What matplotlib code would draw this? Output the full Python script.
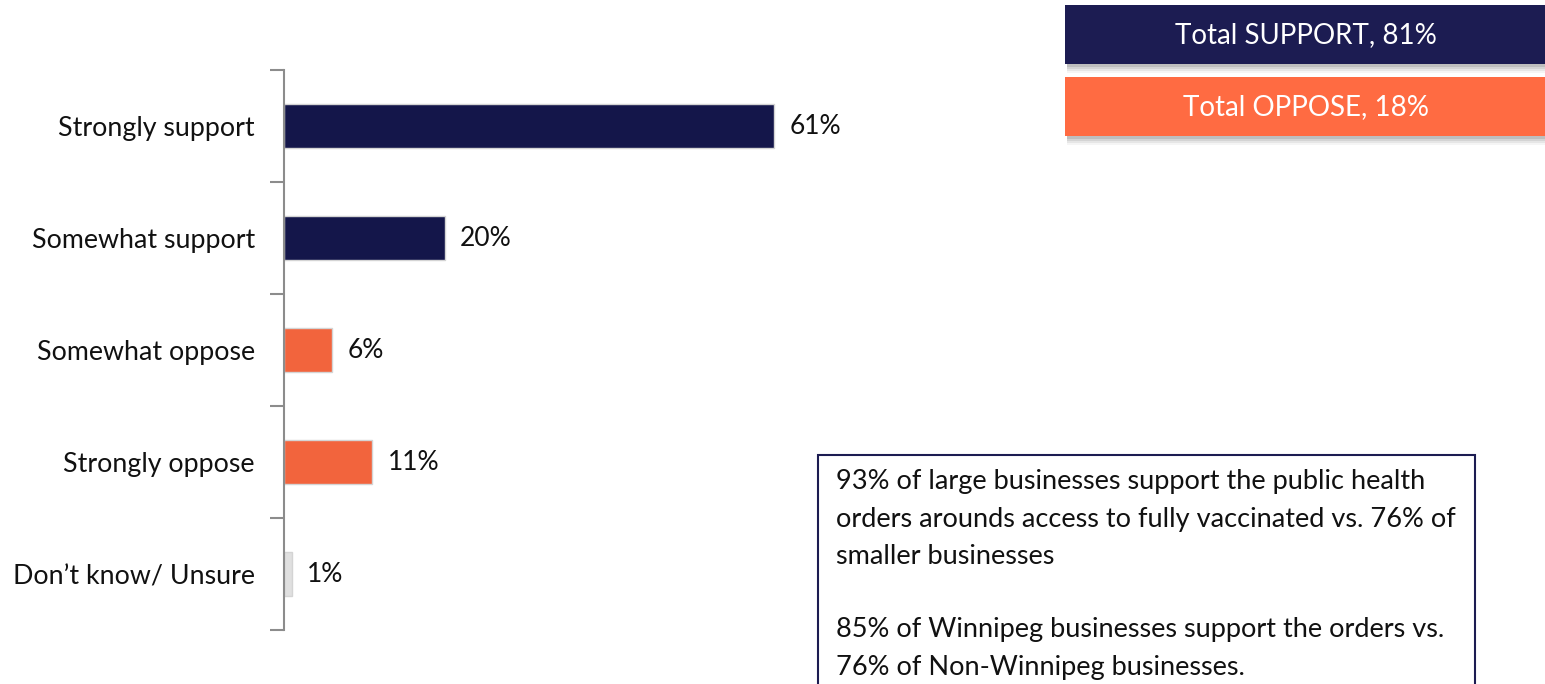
import matplotlib
matplotlib.use("Agg")
import matplotlib.pyplot as plt
from matplotlib.patches import Rectangle

# data
categories = ["Strongly support", "Somewhat support", "Somewhat oppose", "Strongly oppose", "Don\u2019t know/ Unsure"]
values = [61, 20, 6, 11, 1]
bar_colors = ["#14164a", "#14164a", "#f2643d", "#f2643d", "#e0e0e0"]
totals = ["Total SUPPORT, 81%", "Total OPPOSE, 18%"]
total_colors = ["#1c1c52", "#ff6b42"]
note_lines = [
    "93% of large businesses support the public health",
    "orders arounds access to fully vaccinated vs. 76% of",
    "smaller businesses",
    "",
    "85% of Winnipeg businesses support the orders vs.",
    "76% of Non-Winnipeg businesses.",
]

W, H = 1545, 684
plt.rcParams['font.family'] = ['Lato', 'DejaVu Sans']

fig = plt.figure(figsize=(W / 100, H / 100), dpi=100)


def fx(px):
    return px / W


def fy(py):
    return 1 - py / H


# main axes: y-axis line at x=284, top 70, bottom 630
ax_left, ax_top, ax_bot, ax_w = 284, 70, 630, 800
ax = fig.add_axes([fx(ax_left), fy(ax_bot), ax_w / W, (ax_bot - ax_top) / H])
px_per_unit = 8.04
ax.set_xlim(0, ax_w / px_per_unit)
ax.set_ylim(len(categories) - 0.5, -0.5)

ypos = list(range(len(categories)))
ax.barh(ypos, values, height=0.4, color=bar_colors, edgecolor="#d4d4d4", linewidth=1)
for y, v in zip(ypos, values):
    ax.text(v + 15 / px_per_unit, y, f"{v}%", va="center", ha="left", fontsize=19, color="#111111")

for s in ["top", "right", "bottom"]:
    ax.spines[s].set_visible(False)
ax.spines["left"].set_color("#8c8c8c")
ax.spines["left"].set_linewidth(1.5)
ax.set_xticks([])
ax.set_yticks([i - 0.5 for i in range(len(categories) + 1)])
ax.set_yticklabels([])
ax.tick_params(axis="y", which="major", length=10, width=1.5, color="#8c8c8c", direction="out")
ax.set_yticks(ypos, minor=True)
ax.set_yticklabels(categories, minor=True, fontsize=19.3, color="#111111")
ax.tick_params(axis="y", which="minor", length=0, pad=21)

# total boxes top right, with a soft shadow
box_x0, box_x1 = 1065, 1545
for i, (label, col) in enumerate(zip(totals, total_colors)):
    top = 5 + i * 72
    bh = 59
    for k, a in enumerate([0.10, 0.08, 0.06, 0.04]):
        off = 3 + k * 2
        fig.patches.append(Rectangle((fx(box_x0 + 2), fy(top + bh + off)), (box_x1 - box_x0) / W, bh / H,
                                     transform=fig.transFigure, facecolor="#000000", alpha=a,
                                     edgecolor="none", zorder=1))
    fig.patches.append(Rectangle((fx(box_x0), fy(top + bh)), (box_x1 - box_x0) / W, bh / H,
                                 transform=fig.transFigure, facecolor=col, edgecolor="none", zorder=2))
    fig.text(fx(1306), fy(top + bh / 2 + 1), label, ha="center", va="center",
             fontsize=20, color="white", zorder=3)

# note box bottom right
fig.patches.append(Rectangle((fx(818), fy(700)), (1475 - 818) / W, (700 - 455) / H,
                             transform=fig.transFigure, facecolor="white",
                             edgecolor="#1c1c52", linewidth=1.5, zorder=2))
for i, line in enumerate(note_lines):
    fig.text(fx(836), fy(482 + i * 37), line, ha="left", va="center",
             fontsize=19.5, color="#111111", zorder=3)

fig.savefig("out.png", dpi=100)
